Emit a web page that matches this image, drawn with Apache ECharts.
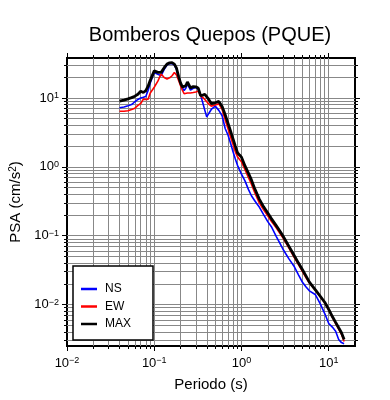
<html>
<head>
<meta charset="UTF-8" />
<script src="https://cdn.jsdelivr.net/npm/echarts@6/dist/echarts.min.js"></script>
</head>
<style type="text/css">
    *{
        margin: 0;
        padding: 0;
    }
    body{
        background: #fff;
    }
    #chart{
        width: 390px;
        height: 400px;
    }
</style>
<body>
<div id="chart"></div>
<script type="text/javascript">
    // periodo (s)
    var periods = [0.04, 0.045, 0.05, 0.055, 0.06, 0.065, 0.07, 0.075, 0.08, 0.085, 0.09, 0.1,
        0.11, 0.12, 0.13, 0.14, 0.15, 0.16, 0.17, 0.18, 0.19, 0.2, 0.21, 0.22, 0.23, 0.24, 0.25,
        0.26, 0.28, 0.3, 0.32, 0.34, 0.36, 0.38, 0.4, 0.42, 0.45, 0.5, 0.55, 0.6, 0.65, 0.7,
        0.75, 0.8, 0.85, 0.9, 0.95, 1.0, 1.1, 1.2, 1.3, 1.4, 1.5, 1.6, 1.8, 2.0, 2.2, 2.5, 2.8,
        3.0, 3.5, 4.0, 4.5, 5.0, 5.5, 6.0, 7.0, 8.0, 9.0, 10, 11, 12, 13, 14, 15];
    // PSA (cm/s2)
    var nsPsa = [7.2, 7.4, 7.7, 8.0, 8.8, 9.5, 10.0, 10.2, 10.5, 12.8, 16.5, 23.4,
        22.0, 21.0, 26.0, 30.0, 31.5, 31.5, 30.0, 26.0, 20.0, 16.0, 14.0, 12.8, 13.8, 15.8, 14.5,
        13.0, 13.8, 14.2, 13.3, 11.0, 8.5, 6.6, 5.3, 5.9, 6.8, 7.6, 6.6, 5.5, 3.6, 2.9,
        2.2, 1.65, 1.3, 1.05, 0.9, 0.78, 0.62, 0.47, 0.38, 0.33, 0.29, 0.26, 0.2, 0.16, 0.135, 0.098, 0.075,
        0.063, 0.046, 0.036, 0.027, 0.021, 0.018, 0.0158, 0.014, 0.0102, 0.0074, 0.0053, 0.0047, 0.0041, 0.0031, 0.0028, 0.0027];
    var ewPsa = [6.4, 6.4, 6.5, 6.8, 7.1, 7.8, 8.3, 9.6, 9.5, 9.6, 11.8, 14.3,
        17.5, 22.3, 19.8, 18.8, 19.6, 21.0, 23.4, 21.5, 18.0, 15.0, 13.0, 11.5, 11.2, 11.8, 12.0,
        11.8, 12.0, 12.2, 12.6, 10.6, 10.2, 9.5, 8.8, 8.2, 7.6, 7.9, 8.2, 6.8, 4.8, 3.6,
        2.7, 2.1, 1.65, 1.4, 1.28, 1.18, 0.9, 0.7, 0.56, 0.44, 0.36, 0.3, 0.235, 0.195, 0.162, 0.13, 0.105,
        0.092, 0.066, 0.049, 0.038, 0.03, 0.0245, 0.0205, 0.0162, 0.013, 0.0106, 0.0083, 0.0065, 0.0053, 0.0044, 0.0037, 0.0029];
    var maxPsa = [9.0, 9.3, 9.7, 10.1, 10.6, 11.3, 12.5, 12.0, 12.8, 14.8, 18.0, 24.7,
        23.5, 23.5, 27.5, 31.0, 32.3, 32.5, 31.0, 27.0, 20.5, 16.5, 14.5, 13.8, 15.0, 17.0, 15.5,
        14.0, 14.6, 14.5, 13.8, 10.8, 11.0, 11.3, 11.3, 9.6, 8.3, 8.5, 8.9, 7.5, 5.7, 4.3,
        3.3, 2.55, 2.0, 1.6, 1.48, 1.38, 1.02, 0.81, 0.645, 0.5, 0.41, 0.34, 0.26, 0.213, 0.177, 0.14, 0.113,
        0.098, 0.07, 0.052, 0.04, 0.032, 0.0258, 0.0212, 0.0165, 0.0132, 0.0108, 0.0085, 0.0067, 0.0055, 0.0046, 0.0039, 0.0031];

    var xDecades = [0.01, 0.1, 1, 10];
    var yDecades = [0.01, 0.1, 1, 10];
    var xRange = [0.01, 20];
    var yRange = [0.0025, 38];

    // lineas de la rejilla en 1..9 x 10^n dentro del rango
    function gridValues(range) {
        var out = [];
        for (var e = -4; e <= 2; e++) {
            for (var m = 1; m <= 9; m++) {
                var v = +(m * Math.pow(10, e)).toPrecision(3);
                if (v > range[0] && v < range[1]) out.push(v);
            }
        }
        return out;
    }

    function pow10Label(v) {
        var e = Math.round(Math.log10(v));
        return '10{sup|' + String(e).replace('-', '\u2212') + '}';
    }

    var font = 'Liberation Sans, Arial, sans-serif';
    var labelStyle = {
        fontFamily: font,
        fontSize: 13,
        color: '#000',
        rich: {
            sup: {fontSize: 9, verticalAlign: 'top', padding: [0, 0, 5, 0], fontFamily: font}
        }
    };

    function axis(dim, pos, range, ticks, len, labels, split, name) {
        var a = {
            type: 'log',
            logBase: 10,
            position: pos,
            min: range[0],
            max: range[1],
            axisLine: {show: false},
            axisTick: {show: true, customValues: ticks, length: len, lineStyle: {color: '#000', width: 1}},
            splitLine: {show: split, lineStyle: {color: '#888', width: 1}},
            axisLabel: {show: false}
        };
        if (labels) {
            a.axisLabel = Object.assign({show: true, customValues: labels, formatter: pow10Label,
                margin: dim === 'x' ? 10 : 8}, labelStyle);
        }
        if (name) {
            a.name = name;
            a.nameLocation = 'middle';
            a.nameGap = dim === 'x' ? 31 : 44;
            a.nameTextStyle = {fontFamily: font, fontSize: 15, color: '#000',
                rich: {sup: {fontSize: 10, verticalAlign: 'top', padding: [0, 0, 5, 0], fontFamily: font}}};
        }
        return a;
    }

    var xMinor = gridValues(xRange);
    var yMinor = gridValues(yRange);

    var myChart = echarts.init(document.getElementById('chart'), null, {renderer: 'canvas'});
    var option = {
        animation: false,
        backgroundColor: '#fff',
        title: {
            text: 'Bomberos Quepos (PQUE)',
            left: 205,
            top: 20,
            textAlign: 'center',
            textStyle: {fontFamily: font, fontSize: 20, fontWeight: 'normal', color: '#000'}
        },
        grid: {
            left: 67, right: 35, top: 58, bottom: 54,
            show: true, borderColor: '#000', borderWidth: 2,
            outerBoundsMode: 'none'
        },
        legend: {
            orient: 'vertical',
            left: 73, top: 266,
            backgroundColor: '#fff',
            borderColor: '#000',
            borderWidth: 1.5,
            borderRadius: 0,
            padding: [17, 22, 10, 8],
            icon: 'rect',
            itemWidth: 16,
            itemHeight: 2.5,
            itemGap: 5.5,
            textStyle: {fontFamily: font, fontSize: 12, lineHeight: 12, color: '#000', padding: [0, 0, 0, 3]},
            data: ['NS', 'EW', 'MAX']
        },
        xAxis: [
            axis('x', 'bottom', xRange, xMinor, 3, xDecades, true, 'Periodo (s)'),
            axis('x', 'bottom', xRange, xDecades, 5, null, false),
            axis('x', 'top', xRange, xMinor, 3, null, false),
            axis('x', 'top', xRange, xDecades, 5, null, false)
        ],
        yAxis: [
            axis('y', 'left', yRange, yMinor, 3, yDecades, true, 'PSA (cm/s{sup|2})'),
            axis('y', 'left', yRange, yDecades, 5, null, false),
            axis('y', 'right', yRange, yMinor, 3, null, false),
            axis('y', 'right', yRange, yDecades, 5, null, false)
        ],
        series: [
            {name: 'NS', type: 'line', symbol: 'none', lineStyle: {color: '#0000ff', width: 1.6}, itemStyle: {color: '#0000ff'},
                data: periods.map(function (t, i) { return [t, nsPsa[i]]; })},
            {name: 'EW', type: 'line', symbol: 'none', lineStyle: {color: '#ff0000', width: 1.6}, itemStyle: {color: '#ff0000'},
                data: periods.map(function (t, i) { return [t, ewPsa[i]]; })},
            {name: 'MAX', type: 'line', symbol: 'none', lineStyle: {color: '#000', width: 2.8}, itemStyle: {color: '#000'},
                data: periods.map(function (t, i) { return [t, maxPsa[i]]; })}
        ]
    };
    myChart.setOption(option);
</script>
</body>
</html>
